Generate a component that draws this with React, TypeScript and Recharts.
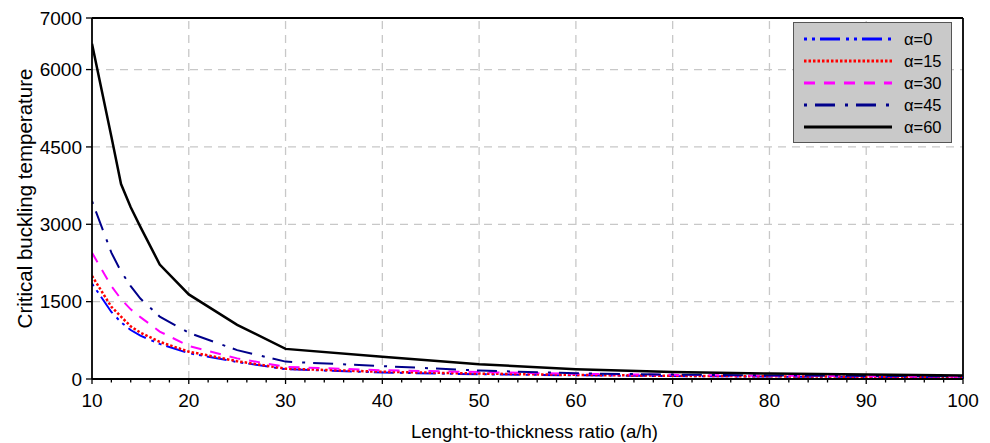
import React from 'react';
import { LineChart, Line, XAxis, YAxis, CartesianGrid, ReferenceLine, Legend, Label } from 'recharts';

const ratio = [10, 12, 13, 14, 15, 17, 20, 25, 30, 40, 50, 60, 70, 80, 90, 100];
const alpha0 = [1850, 1300, 1100, 950, 840, 680, 500, 330, 190, 125, 92, 72, 57, 47, 40, 35];
const alpha15 = [2000, 1400, 1210, 1020, 900, 720, 530, 345, 200, 140, 105, 80, 62, 52, 44, 38];
const alpha30 = [2450, 1800, 1550, 1350, 1200, 920, 640, 400, 235, 170, 135, 100, 80, 65, 55, 45];
const alpha45 = [3450, 2450, 2085, 1800, 1560, 1210, 896, 560, 337, 250, 165, 110, 85, 70, 60, 50];
const alpha60 = [6500, 4700, 3780, 3330, 2950, 2220, 1640, 1050, 584, 430, 285, 190, 135, 105, 85, 70];

const xTicks = [10, 12, 14, 16, 18, 20, 22, 24, 26, 28, 30, 32, 34, 36, 38, 40, 42, 44, 46, 48, 50, 52, 54, 56, 58, 60, 62, 64, 66, 68, 70, 72, 74, 76, 78, 80, 82, 84, 86, 88, 90, 92, 94, 96, 98, 100];
const xGrid = [20, 30, 40, 50, 60, 70, 80, 90];
const yTicks = [0, 1500, 3000, 4500, 6000, 7000];

const seriesKeys = ['a0', 'a15', 'a30', 'a45', 'a60'];
const seriesNames = ['α=0', 'α=15', 'α=30', 'α=45', 'α=60'];
const seriesValues = [alpha0, alpha15, alpha30, alpha45, alpha60];
const seriesColors = ['#0000ff', '#ff0000', '#ff00ff', '#00008b', '#000000'];
const seriesDash = ['3 5 3 5 20 6', '2.5 2', '11 9', '3 8 20 10', undefined];
const seriesWidth = [2, 2.5, 2, 2, 2.5];

const data = ratio.map((r, i) => {
  const row: any = { r };
  seriesKeys.forEach((k, s) => { row[k] = seriesValues[s][i]; });
  return row;
});

const FONT = '"Liberation Sans", Arial, Helvetica, sans-serif';

const XTick = (props: any) => {
  const { x, y, payload } = props;
  const major = payload.value % 10 === 0;
  return (
    <g>
      <line x1={x} x2={x} y1={y} y2={y + (major ? 5 : 3.5)} stroke="#000" strokeWidth={1.3} />
      {major && (
        <text x={x} y={y + 28} textAnchor="middle" fontSize={19} fontFamily={FONT} fill="#000">
          {payload.value}
        </text>
      )}
    </g>
  );
};

const LegendBox = () => (
  <div
    style={{
      width: 159, height: 121, boxSizing: 'border-box', background: '#c9c9c9',
      border: '1px solid #555', position: 'relative', fontFamily: FONT,
    }}
  >
    {seriesKeys.map((k, i) => (
      <div key={k} style={{ position: 'absolute', left: 10, top: 5 + i * 22.1, height: 22, display: 'flex', alignItems: 'center' }}>
        <svg width={88} height={6} style={{ display: 'block' }}>
          <line x1={0} x2={88} y1={3} y2={3} stroke={seriesColors[i]} strokeWidth={3} strokeDasharray={seriesDash[i]} />
        </svg>
        <span style={{ marginLeft: 12, fontSize: 16.5, color: '#000', lineHeight: '22px' }}>{seriesNames[i]}</span>
      </div>
    ))}
  </div>
);

export default function App() {
  return (
    <div style={{ position: 'absolute', left: 0, top: 0, width: 990, height: 443, background: '#fff' }}>
      <LineChart width={990} height={443} data={data} margin={{ top: 18, right: 27, left: 0, bottom: 0 }}>
        <CartesianGrid vertical={false} stroke="#c8c8c8" strokeDasharray="8 6" strokeWidth={1.3} />
        {xGrid.map((g) => (
          <ReferenceLine key={g} x={g} stroke="#c8c8c8" strokeDasharray="8 6" strokeWidth={1.3} />
        ))}
        <XAxis
          dataKey="r" type="number" domain={[10, 100]} ticks={xTicks} interval={0}
          height={64} tickSize={0} tickMargin={0} tickLine={false} tick={<XTick />}
          axisLine={{ stroke: '#000', strokeWidth: 1.8 }} allowDataOverflow
        >
          <Label
            content={(p: any) => (
              <text x={p.viewBox.x + p.viewBox.width / 2 + 7} y={438} textAnchor="middle" fontSize={18.6} fontFamily={FONT} fill="#000">
                Lenght-to-thickness ratio (a/h)
              </text>
            )}
          />
        </XAxis>
        <YAxis
          type="number" domain={[0, 7000]} ticks={yTicks} interval={0} width={92}
          tickSize={6} tickMargin={4} allowDataOverflow
          tick={{ fontSize: 19, fontFamily: FONT, fill: '#000' }}
          tickLine={{ stroke: '#000', strokeWidth: 1.3 }}
          axisLine={{ stroke: '#000', strokeWidth: 1.8 }}
        >
          <Label
            content={(p: any) => {
              const cx = 24;
              const cy = p.viewBox.y + p.viewBox.height / 2;
              return (
                <text x={cx} y={cy} transform={`rotate(-90 ${cx} ${cy})`} textAnchor="middle" dominantBaseline="central" fontSize={20.5} fontFamily={FONT} fill="#000">
                  Critical buckling temperature
                </text>
              );
            }}
          />
        </YAxis>
        <ReferenceLine y={7000} stroke="#000" strokeWidth={1.8} />
        <ReferenceLine x={100} stroke="#000" strokeWidth={1.8} />
        {seriesKeys.map((k, i) => (
          <Line
            key={k} dataKey={k} name={seriesNames[i]} type="linear" stroke={seriesColors[i]}
            strokeWidth={seriesWidth[i]} strokeDasharray={seriesDash[i]} dot={false}
            activeDot={false} isAnimationActive={false}
          />
        ))}
        <Legend
          layout="horizontal" align="center" verticalAlign="middle"
          wrapperStyle={{ position: 'absolute', left: 793, top: 22, width: 159, height: 121, margin: 0 }}
          content={() => <LegendBox />}
        />
      </LineChart>
    </div>
  );
}
